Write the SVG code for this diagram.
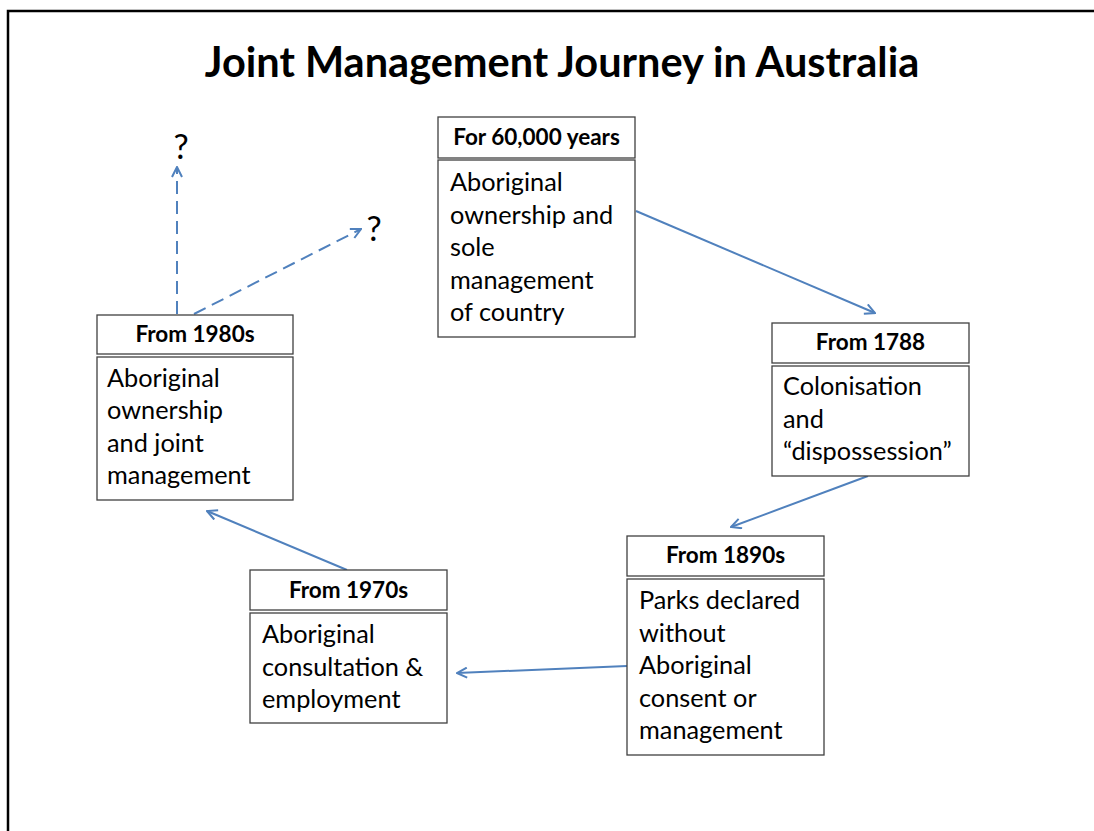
<svg xmlns="http://www.w3.org/2000/svg" width="1094" height="831" viewBox="0 0 1094 831">
<style>
.box{fill:#fff;stroke:#404040;stroke-width:1.3}
.hdr{font-family:Lato,"Liberation Sans",sans-serif;font-weight:bold;font-size:22.5px;fill:#000;text-anchor:middle}
.body{font-family:Lato,"Liberation Sans",sans-serif;font-size:25.3px;fill:#000}
.title{font-family:Lato,"Liberation Sans",sans-serif;font-weight:bold;font-size:41.5px;fill:#000;text-anchor:middle}
.q{font-family:Lato,"Liberation Sans",sans-serif;font-size:34px;fill:#000;text-anchor:middle}
.arr{stroke:#5081bd;stroke-width:2;fill:none;marker-end:url(#ah)}
.dash{stroke-dasharray:13 7}
</style>
<defs>
<marker id="ah" viewBox="0 0 12 12" refX="11" refY="6" markerWidth="12" markerHeight="12" markerUnits="userSpaceOnUse" orient="auto">
<path d="M1,1 L11,6 L1,11" fill="none" stroke="#5081bd" stroke-width="2"/>
</marker>
</defs>
<rect x="0" y="0" width="1094" height="831" fill="#fff"/>
<rect x="8" y="11" width="1100" height="840" fill="none" stroke="#000" stroke-width="2.5"/>
<text class="title" x="562" y="77">Joint Management Journey in Australia</text>
<g id="connectors">
<line class="arr" x1="636" y1="211" x2="875" y2="313"/>
<line class="arr" x1="868" y1="476" x2="731" y2="527"/>
<line class="arr" x1="627" y1="666" x2="457" y2="673"/>
<line class="arr" x1="347" y1="570" x2="207" y2="511"/>
<line class="arr dash" x1="177" y1="314" x2="177" y2="167"/>
<line class="arr dash" x1="194" y1="314" x2="361" y2="229"/>
</g>
<g id="q1"><text class="q" x="181" y="159">?</text></g>
<g id="q2"><text class="q" x="374" y="241">?</text></g>
<g id="n60000">
<rect class="box" x="438" y="117" width="197" height="41"/>
<text class="hdr" x="536.5" y="145">For 60,000 years</text>
<rect class="box" x="438" y="160" width="197" height="177"/>
<text class="body" x="450" y="191">Aboriginal</text>
<text class="body" x="450" y="223.5">ownership and</text>
<text class="body" x="450" y="256">sole</text>
<text class="body" x="450" y="288.5">management</text>
<text class="body" x="450" y="321">of country</text>
</g>
<g id="n1788">
<rect class="box" x="772" y="323" width="197" height="40"/>
<text class="hdr" x="870.5" y="350">From 1788</text>
<rect class="box" x="772" y="366" width="197" height="110"/>
<text class="body" x="783" y="395">Colonisation</text>
<text class="body" x="783" y="428">and</text>
<text class="body" x="783" y="460">“dispossession”</text>
</g>
<g id="n1890s">
<rect class="box" x="627" y="536" width="197" height="40"/>
<text class="hdr" x="725.5" y="563">From 1890s</text>
<rect class="box" x="627" y="579" width="197" height="176"/>
<text class="body" x="639" y="609">Parks declared</text>
<text class="body" x="639" y="642">without</text>
<text class="body" x="639" y="674">Aboriginal</text>
<text class="body" x="639" y="707">consent or</text>
<text class="body" x="639" y="739">management</text>
</g>
<g id="n1970s">
<rect class="box" x="250" y="570" width="197" height="40"/>
<text class="hdr" x="348.5" y="598">From 1970s</text>
<rect class="box" x="250" y="613" width="197" height="110"/>
<text class="body" x="262" y="643">Aboriginal</text>
<text class="body" x="262" y="676">consultation &amp;</text>
<text class="body" x="262" y="708">employment</text>
</g>
<g id="n1980s">
<rect class="box" x="97" y="315" width="196" height="39"/>
<text class="hdr" x="195" y="342">From 1980s</text>
<rect class="box" x="97" y="357" width="196" height="143"/>
<text class="body" x="107" y="387">Aboriginal</text>
<text class="body" x="107" y="419">ownership</text>
<text class="body" x="107" y="452">and joint</text>
<text class="body" x="107" y="484">management</text>
</g>
</svg>
